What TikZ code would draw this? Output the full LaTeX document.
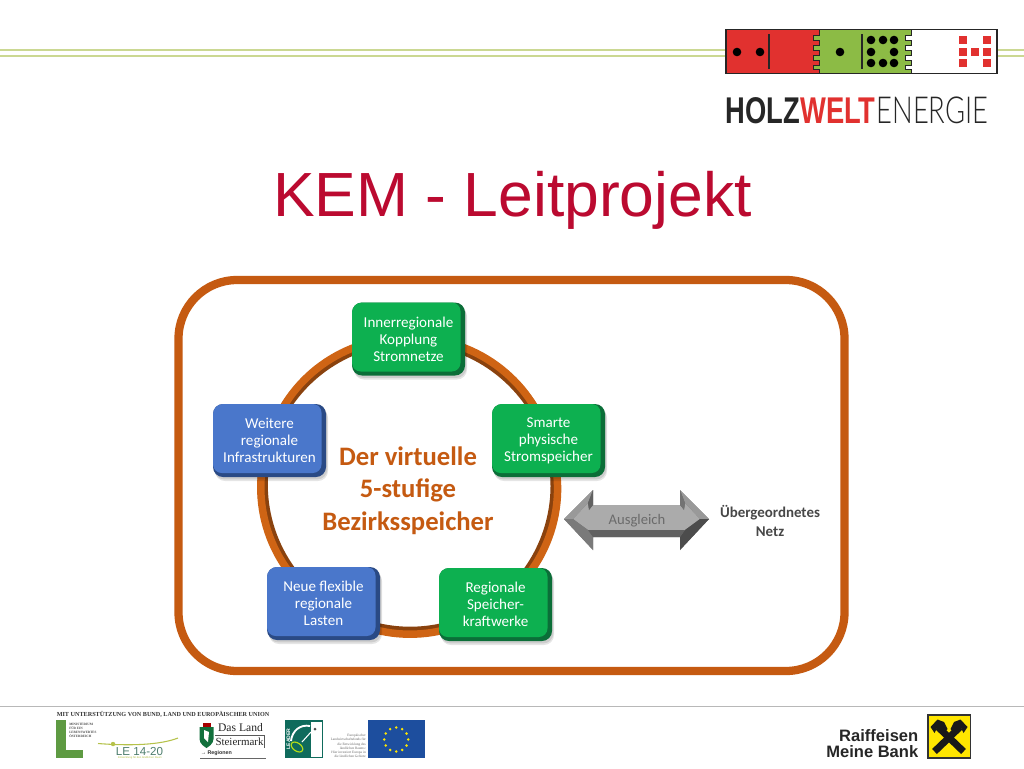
\documentclass[tikz,border=0pt]{standalone}
\usepackage{fontspec}
\setmainfont{Carlito}
\newfontfamily\arialf{Liberation Sans}
\newfontfamily\timesf{Liberation Serif}
\newfontfamily\lightf[UprightFont=* Light]{Lato}
\usetikzlibrary{backgrounds}
\pgfdeclarelayer{bg}
\pgfsetlayers{bg,main}
\definecolor{frameor}{HTML}{C55A11}
\definecolor{arcdark}{HTML}{8A420E}
\definecolor{arcface}{HTML}{CF6414}
\definecolor{gface}{HTML}{0DB050}
\definecolor{gedge}{HTML}{0B6E38}
\definecolor{bface}{HTML}{4A77CB}
\definecolor{bedge}{HTML}{2A4A85}
\definecolor{titlered}{HTML}{BB0A30}
\definecolor{lred}{HTML}{E1312F}
\definecolor{lgreen}{HTML}{8CBB45}
\definecolor{hline}{HTML}{CBD892}
\definecolor{eublue}{HTML}{1D4E9E}
\definecolor{leadg}{HTML}{0F6B5C}
\definecolor{rfy}{HTML}{FFE600}
\definecolor{minL}{HTML}{5E9A42}
\definecolor{leline}{HTML}{B5C24A}
\definecolor{letext}{HTML}{4D7D6D}
\definecolor{shield}{HTML}{12703C}
\newcommand\toothedge[2]{(#1,29.7)--(#1,35.5)--(#2,35.5)--(#2,40)--(#1,40)--(#1,45)--(#2,45)--(#2,50)--(#1,50)--(#1,55.5)--(#2,55.5)--(#2,60)--(#1,60)--(#1,65)--(#2,65)--(#2,69)--(#1,69)--(#1,73.7)}
\tikzset{
  x=0.75pt,y=-0.75pt,
  stepcard/.style={rounded corners=7.5pt,minimum width=84.75pt,minimum height=54.75pt,inner sep=0pt,
    align=center,text=white,font=\fontsize{11.3}{12.8}\selectfont,
    preaction={fill=black,opacity=.10,transform canvas={shift={(1.5pt,-3pt)}}},
    preaction={fill=black,opacity=.10,transform canvas={shift={(1pt,-1.8pt)}}}},
  greencard/.style={stepcard,fill=gedge,path picture={\fill[gface,rounded corners=6.5pt]
     (path picture bounding box.north west) rectangle ([shift={(-4.5,-4)}]path picture bounding box.south east);}},
  bluecard/.style={stepcard,fill=bedge,path picture={\fill[bface,rounded corners=6.5pt]
     (path picture bounding box.north west) rectangle ([shift={(-4.5,-4)}]path picture bounding box.south east);}},
  ringdark/.style={line width=7.8pt,draw=arcdark,bend left=36,looseness=.94},
  ringface/.style={line width=5.6pt,draw=arcface,bend left=39.5,looseness=.94},
  plain/.style={inner sep=0pt,align=center}
}
\begin{document}
\begin{tikzpicture}
\useasboundingbox (0,0) rectangle (1024,768);
\begin{pgfonlayer}{bg}
\fill[white] (0,0) rectangle (1024,768);
\end{pgfonlayer}
% header lines
\draw[hline,line width=.8pt] (0,50) -- (726,50);
\draw[hline,line width=1.4pt] (0,56) -- (726,56);
\draw[hline,line width=.8pt] (997,50) -- (1024,50);
\draw[hline,line width=1.4pt] (997,56) -- (1024,56);
% logo domino
\fill[white] (726,29.7) rectangle (997,73.7);
\filldraw[fill=lgreen,draw=black!85,line width=.7pt] (790,29.7)--\toothedge{911}{905}--(790,73.7)--cycle;
\filldraw[fill=lred,draw=black!85,line width=.7pt] (726,29.7)--\toothedge{819}{813}--(726,73.7)--cycle;
\draw[black!85,line width=1pt] (726,29.7) rectangle (997,73.7);
\draw[black!85,line width=.8pt] (769,34) -- (769,69);
\draw[black!85,line width=.8pt] (862,34) -- (862,69);
\foreach \px/\py in {737/52,760/52,840/52,871/40,883/40,894/40,871/52,894/52,871/63,883/63,894/63}
  \fill[black] (\px,\py) circle (4.3);
\foreach \px/\py in {963/40,987/40,963/52,975/52,987/52,963/63,987/63}
  \fill[lred] (\px-4.3,\py-4.3) rectangle (\px+4.3,\py+4.3);
\node[plain,anchor=west] (brand) at (725.5,110) {\scalebox{.735}[1]{\fontsize{27.9}{28}\selectfont\arialf\bfseries\textcolor{black!85}{HOLZ}\textcolor{lred}{WELT}\kern1pt\textcolor{black!85}{\lightf\mdseries ENERGIE}}};
% title
\node[plain,text=titlered] (title) at (512.5,200) {\fontsize{46.8}{50}\selectfont\arialf KEM - Leitprojekt};
% frame
\begin{pgfonlayer}{bg}
\draw[frameor,line width=6.2pt,rounded corners=44pt] (178.5,280) rectangle (844.5,671);
\end{pgfonlayer}
% cards
\node[greencard] (n1) at (408.5,339) {Innerregionale\\Kopplung\\Stromnetze};
\node[greencard] (n2) at (548.5,440.5) {Smarte\\physische\\Stromspeicher};
\node[greencard] (n3) at (495.5,604.5) {Regionale\\Speicher-\\kraftwerke};
\node[bluecard] (n4) at (323.5,603.5) {Neue flexible\\regionale\\Lasten};
\node[bluecard] (n5) at (269.5,440.5) {Weitere\\regionale\\Infrastrukturen};
\begin{pgfonlayer}{bg}
\foreach \a/\b in {n1/n2,n2/n3,n3/n4,n4/n5,n5/n1}{
  \draw[ringdark] (\a.center) to (\b.center);
  \draw[ringface] (\a.center) to (\b.center);
}
\end{pgfonlayer}
\node[plain,text=frameor,font=\fontsize{20}{24.2}\selectfont\bfseries] (core) at (408,490.5) {Der virtuelle\\5-stufige\\Bezirksspeicher};
% double arrow
\fill[black!58] (564,519)--(593,490)--(593,505)--(680,505)--(680,490)--(709,519)--(680,550)--(680,537)--(593,537)--(593,550)--cycle;
\fill[black!33] (573,519)--(588,503)--(589,510)--(593,505)--(680,505)--(684,510)--(685,503)--(700,519)--(685,530)--(588,530)--cycle;
\fill[black!40] (564,519)--(593,490)--(588,503)--(573,519)--cycle;
\fill[black!62] (593,490)--(593,505)--(589,510)--(588,503)--cycle;
\fill[black!40] (680,490)--(709,519)--(700,519)--(685,503)--cycle;
\fill[black!55] (680,490)--(680,505)--(684,510)--(685,503)--cycle;
\fill[black!52] (564,519)--(593,550)--(593,537)--(588,530)--(573,519)--cycle;
\fill[black!70] (709,519)--(680,550)--(680,537)--(685,530)--(700,519)--cycle;
\fill[black!62] (593,537)--(680,537)--(685,530)--(588,530)--cycle;
\node[plain,text=black!58,font=\fontsize{11}{13}\selectfont] (bal) at (637,520.5) {Ausgleich};
\node[plain,text=black!72,font=\fontsize{11.2}{14.2}\selectfont\bfseries] (grid) at (770,520.5) {Übergeordnetes\\Netz};
% footer
\draw[black!28,line width=.8pt] (0,706.5) -- (1024,706.5);
\node[plain,anchor=west,text=black!80,font=\fontsize{4.63}{5}\selectfont\timesf\bfseries] (support) at (56.5,714.5) {MIT UNTERSTÜTZUNG VON BUND, LAND UND EUROPÄISCHER UNION};
% ministerium
\fill[minL] (56,720) rectangle (65.5,758);
\fill[minL] (56,750) rectangle (82.5,758);
\node[plain,anchor=north west,align=left,text=black!70,font=\fontsize{2.5}{3}\selectfont\timesf\bfseries] (min) at (69,723.5) {MINISTERIUM\\FÜR EIN\\LEBENSWERTES\\ÖSTERREICH};
\draw[leline,line width=.8pt] (98,743.5) .. controls (130,746) and (160,745) .. (178,738);
\fill[leline] (113,744) circle (2.2);
\node[plain,text=letext,font=\fontsize{8.7}{9}\selectfont\arialf] (le) at (139.5,751) {LE 14-20};
\node[plain,text=leline,font=\fontsize{2}{2.5}\selectfont\arialf] (lesub) at (140,757.5) {Entwicklung für den ländlichen Raum};
% steiermark
\fill[shield] (199.5,727) -- (213.5,727) -- (213.5,739) .. controls (213.5,744) and (208,747) .. (206.5,748) .. controls (205,747) and (199.5,744) .. (199.5,739) -- cycle;
\fill[red!65!black] (202.5,722.5) rectangle (210.5,727);
\fill[white] (204,730) -- (209,732) -- (208,742) -- (204,738) -- cycle;
\node[plain,text=black!85,font=\fontsize{8.7}{10}\selectfont\timesf] (land) at (240.5,728) {Das Land};
\node[plain,text=black!85,font=\fontsize{8.2}{10}\selectfont\timesf] (stmk) at (239.5,742) {Steiermark};
\draw[black!65,line width=.5pt] (215,735) -- (264,735) -- (264,748);
\draw[black!60,line width=.6pt] (200,758) -- (265.5,758);
\node[plain,anchor=west,text=black!80,font=\fontsize{4}{6}\selectfont\arialf\bfseries] (reg) at (200.5,753) {→ Regionen};
% leader
\fill[leadg] (285,720) rectangle (323,758);
\fill[white] (311,722) rectangle (322,757);
\draw[white,line width=1.4pt] (310,726) .. controls (300,724) and (292,731) .. (291,741);
\draw[yellow!70!green,line width=.9pt,rotate around={-35:(297,747)}] (297,747) ellipse (6.5 and 4);
\draw[white,line width=.8pt] (302,742) -- (311,732);
\fill[black!70] (315,729) circle (1.5);
\node[plain,text=white,rotate=90,font=\fontsize{3.8}{4}\selectfont\arialf\bfseries] (lead) at (288.5,739) {LEADER};
\node[plain,align=right,anchor=east,text=black!60,font=\fontsize{2.6}{3.2}\selectfont\timesf] (eufund) at (366,746) {Europäischer\\Landwirtschaftsfonds für\\die Entwicklung des\\ländlichen Raums:\\Hier investiert Europa in\\die ländlichen Gebiete};
\fill[eublue] (368,720) rectangle (424.5,758);
\foreach \t in {0,30,...,330}
  \fill[yellow!90!orange] ([shift={(\t:12)}]396.2,739.5) circle (1.4);
% raiffeisen
\node[plain,align=right,anchor=east,text=black!85,font=\fontsize{12.4}{12}\selectfont\arialf\bfseries] (rb) at (918.5,744) {Raiffeisen\\Meine Bank};
\filldraw[fill=rfy,draw=black!80,line width=.8pt] (928,715) rectangle (970.5,758);
\draw[black!90,line width=5.2pt] (934.5,751.5) -- (960,727);
\draw[black!90,line width=5.2pt] (963.5,751.5) -- (938,727);
\fill[black!90] (930.5,727) -- (937.5,719.5) -- (944,722) -- (947.5,729) -- (943,734) -- (941,727) -- (937,728) -- (934.5,733) -- cycle;
\fill[black!90] (967.5,727) -- (960.5,719.5) -- (954,722) -- (950.5,729) -- (955,734) -- (957,727) -- (961,728) -- (963.5,733) -- cycle;
\end{tikzpicture}
\end{document}
